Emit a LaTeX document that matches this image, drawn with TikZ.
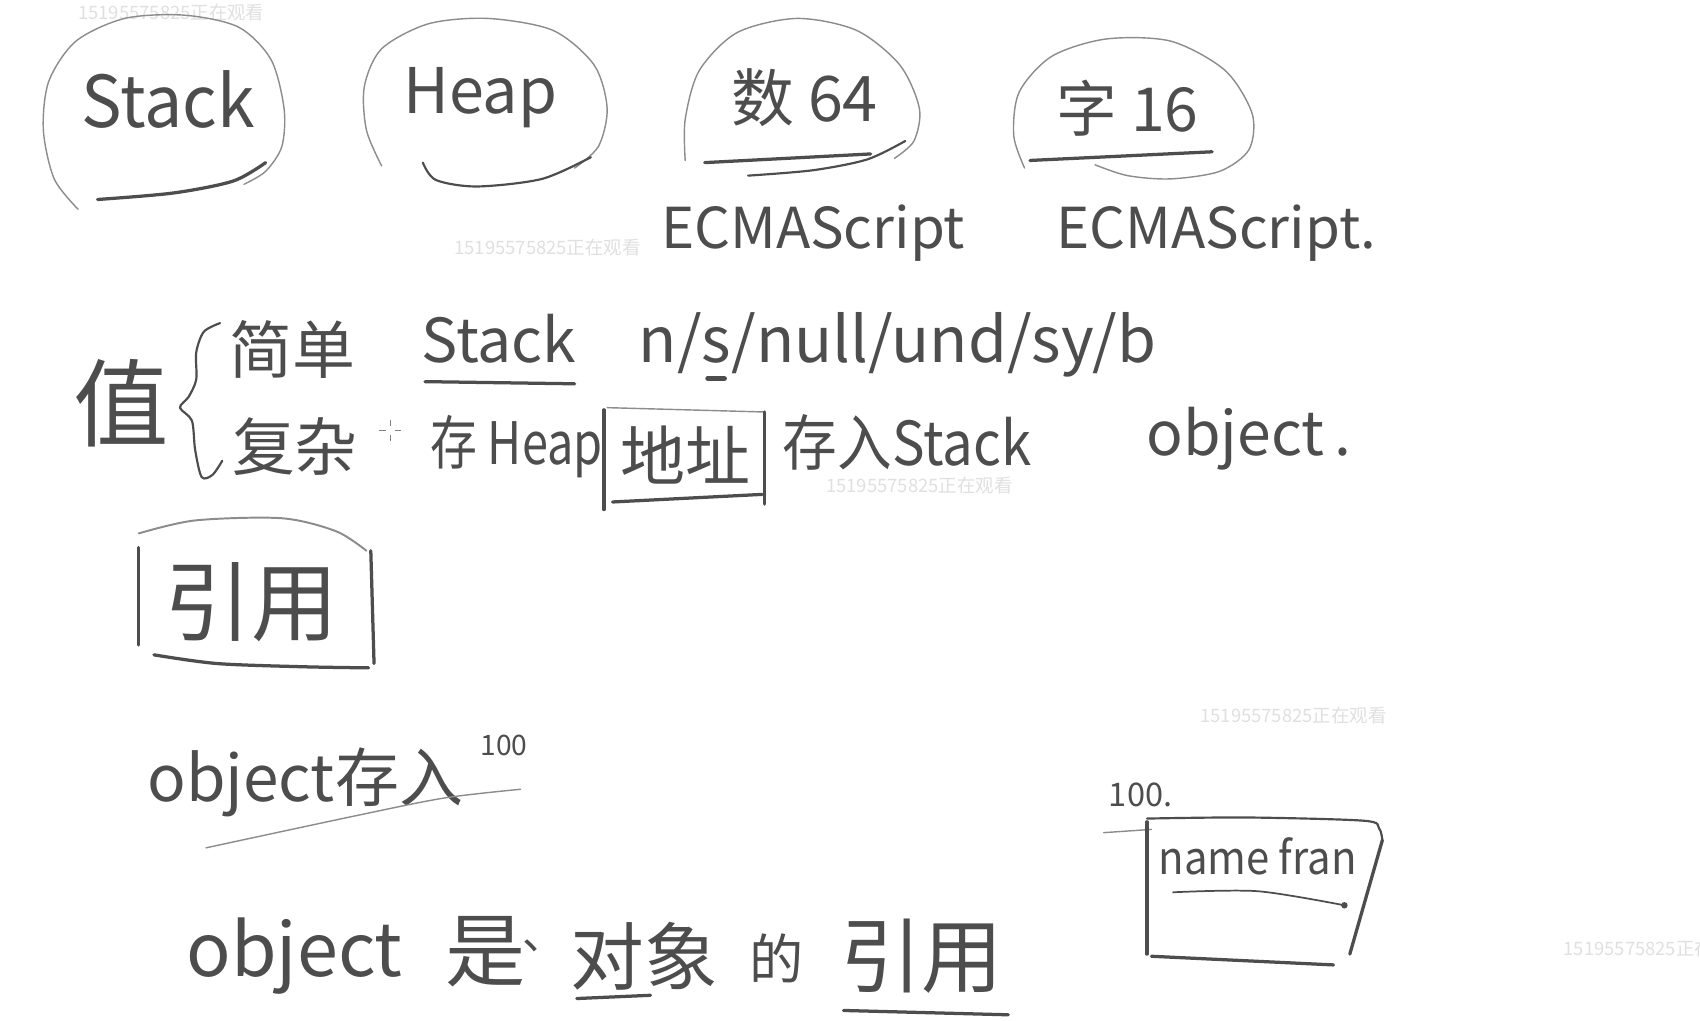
\documentclass[tikz,border=0pt]{standalone}
\usepackage{fontspec}
\setmainfont{Noto Sans CJK SC}
\definecolor{ink}{HTML}{4D4D4D}
\definecolor{thinink}{HTML}{8C8C8C}
\definecolor{wmark}{HTML}{E0E0E0}
\newcommand\fsz[1]{\fontsize{#1}{#1}\selectfont}
\begin{document}
\begin{tikzpicture}[x=1pt,y=-1pt,
  hand/.style={text=ink, inner sep=0pt},
  wm/.style={text=wmark, inner sep=0pt, font=\fsz{17}},
  loopline/.style={draw=thinink, line width=1.3pt, line cap=round, line join=round},
  penline/.style={draw=ink, line width=3pt, line cap=round, line join=round},
  medline/.style={draw=ink, line width=2pt, line cap=round, line join=round}]
\useasboundingbox (0,0) rectangle (1568,941);
\fill[white] (0,0) rectangle (1568,941);

% watermarks
\node[wm] (w1) at (158,12) {15195575825正在观看};
\node[wm] (w2) at (505,228) {15195575825正在观看};
\node[wm] (w3) at (848,448) {15195575825正在观看};
\node[wm] (w4) at (1193,660) {15195575825正在观看};
\node[wm, anchor=west] (w5) at (1442,875) {15195575825正在观看};

% top row
\node[hand, font=\fsz{66}, xscale=0.95] (stack) at (155,92) {Stack};
\draw[loopline] plot[smooth] coordinates {(72,193) (50,165) (40,120) (45,75) (70,38) (115,17) (170,14) (220,25) (250,55) (262,100) (260,135) (245,158) (225,170)};
\draw[penline] plot[smooth] coordinates {(90,184) (160,178) (215,167) (245,150)};

\node[hand, font=\fsz{58}] (heap) at (443,90) {Heap};
\draw[loopline] plot[smooth] coordinates {(352,153) (338,120) (336,80) (352,45) (395,22) (450,17) (510,28) (548,60) (560,100) (552,135) (530,155)};
\draw[medline] plot[smooth] coordinates {(390,150) (402,166) (440,172) (500,165) (545,145)};

\node[hand, font=\fsz{58}] (num) at (742,90) {数 64};
\draw[loopline] plot[smooth] coordinates {(632,148) (632,110) (645,65) (680,30) (735,17) (790,28) (830,60) (848,100) (843,130) (825,146)};
\draw[penline] (650,150) -- (803,142);
\draw[medline] plot[smooth] coordinates {(690,162) (750,157) (800,147) (835,130)};

\node[hand, font=\fsz{56}] (str) at (1040,100) {字 16};
\draw[loopline] plot[smooth] coordinates {(945,155) (935,125) (940,85) (970,52) (1020,36) (1080,38) (1130,65) (1155,105) (1152,138) (1125,158) (1080,165) (1040,162) (1010,152)};
\draw[penline] (950,148) -- (1118,140);

\node[hand, font=\fsz{52}] (ecma1) at (750,215) {ECMAScript};
\node[hand, font=\fsz{52}] (ecma2) at (1122,215) {ECMAScript.};

% value block
\node[hand, font=\fsz{88}] (zhi) at (112,372) {值};
\draw[loopline, draw=ink, line width=2pt] plot[smooth] coordinates {(203,298) (188,306) (181,325) (181,350) (174,366) (166,376) (177,388) (180,415) (186,440) (196,438) (205,425)};

\node[hand, font=\fsz{58}] (simple) at (270,322) {简单};
\node[hand, font=\fsz{56}] (stack2) at (460,312) {Stack};
\draw[penline] (392,352) -- (530,354);
\node[hand, font=\fsz{58}] (types) at (828,318) {n/s/null/und/sy/b};
\draw[ink, line width=5pt, line cap=round] (653,349) -- (668,349);

\node[hand, font=\fsz{58}] (complex) at (272,412) {复杂};
\draw[gray, line width=0.8pt] (350,397)--(356,397) (364,397)--(370,397) (360,387)--(360,393) (360,401)--(360,407);
\node[hand, font=\fsz{54}, xscale=0.8, anchor=west] (cunheap) at (397,412) {存 Heap};
\node[hand, font=\fsz{60}] (dizhi) at (632,420) {地址};
\draw[loopline] (560,376) -- (705,380);
\draw[penline] (557,378) -- (557,470);
\draw[penline] (705,380) -- (705,465);
\draw[penline] (565,463) -- (703,456);
\node[hand, font=\fsz{56}, xscale=0.9, anchor=west] (cunru) at (722,408) {存入Stack};
\node[hand, font=\fsz{56}] (object1) at (1152,405) {object\,.};

% reference box
\node[hand, font=\fsz{80}] (yinyong) at (232,555) {引用};
\draw[loopline, line width=1.8pt] plot[smooth] coordinates {(128,492) (180,480) (260,478) (310,490) (338,508)};
\draw[penline] (128,505) -- (128,595);
\draw[penline] (342,508) -- (345,612);
\draw[penline] plot[smooth] coordinates {(142,604) (200,612) (280,615) (340,616)};

\node[hand, font=\fsz{59}, anchor=west] (obj2) at (136,722) {object存入};
\node[hand, font=\fsz{26}] (h100) at (465,688) {100};
\draw[loopline] plot[smooth] coordinates {(190,782) (330,752) (410,736) (480,728)};

\node[hand, font=\fsz{68}, anchor=west] (obj3) at (172,882) {object};
\node[hand, font=\fsz{74}] (shi) at (448,878) {是};
\node[hand, font=\fsz{40}] (dun) at (502,872) {、};
\node[hand, font=\fsz{68}] (duixiang) at (594,882) {对象};
\node[hand, font=\fsz{50}] (de) at (716,884) {的};
\node[hand, font=\fsz{75}] (yinyong2) at (850,882) {引用};
\draw[penline] (532,921) -- (600,918);
\draw[penline] (778,932) -- (930,936);

% heap object box
\node[hand, font=\fsz{30}] (a100) at (1052,733) {100.};
\draw[loopline] (1018,768) -- (1062,765);
\draw[medline] plot[smooth] coordinates {(1058,755) (1150,754) (1258,757) (1272,764) (1275,775)};
\draw[penline] (1058,758) -- (1058,880);
\draw[penline] (1275,775) -- (1245,880);
\draw[penline] (1062,882) -- (1230,890);
\node[hand, font=\fsz{42}, xscale=0.92] (namefran) at (1160,790) {name fran};
\draw[medline, line width=1.6pt] plot[smooth] coordinates {(1082,823) (1160,822) (1240,835)};
\fill[ink] (1240,835) circle (3pt);
\end{tikzpicture}
\end{document}
